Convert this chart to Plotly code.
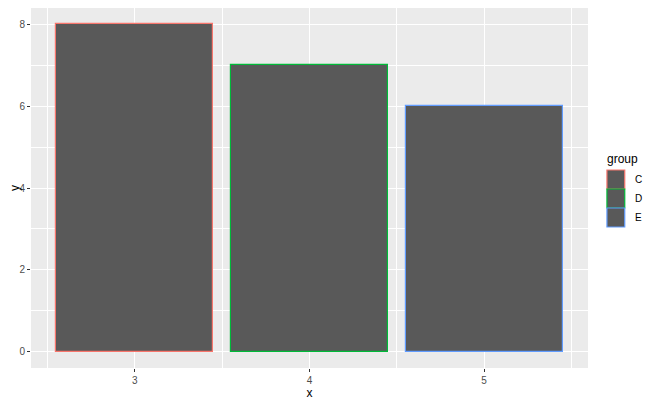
import plotly.graph_objects as go

# data
groups = ['C', 'D', 'E']
x_vals = [3, 4, 5]
y_vals = [8, 7, 6]
outline_colors = ['#F8766D', '#00BA38', '#619CFF']

FILL = '#595959'
PANEL = '#EBEBEB'

fig = go.Figure()
for g, xv, yv, col in zip(groups, x_vals, y_vals, outline_colors):
    fig.add_trace(go.Bar(
        x=[xv], y=[yv], name=g, width=0.9,
        marker=dict(color=FILL, line=dict(color=col, width=1.2)),
        showlegend=False
    ))

axis_common = dict(
    showgrid=True, gridcolor='white', gridwidth=1.1,
    zeroline=False, showline=False, automargin=False,
    ticks='outside', ticklen=3, tickcolor='#333333', tickwidth=1,
    tickfont=dict(family='Liberation Sans', size=10, color='#4D4D4D'),
    title_font=dict(family='Liberation Sans', size=12, color='black'),
    minor=dict(showgrid=True, gridcolor='white', gridwidth=0.5),
)

fig.update_xaxes(range=[2.405, 5.595], tickvals=x_vals, title_text='x',
                 title_standoff=0, minor_dtick=0.5, minor_tick0=2.5,
                 **axis_common)
fig.update_yaxes(range=[-0.4, 8.4], dtick=2, title_text='y',
                 title_standoff=0, minor_dtick=1, minor_tick0=1,
                 **axis_common)

# hand-drawn ggplot style legend
x0, x1 = 1.034, 1.066
key_h = 19 / 360
top = (368 - 170) / 360
fig.add_annotation(x=1.031, y=(368 - 159) / 360, xref='paper', yref='paper',
                   text='group', showarrow=False, xanchor='left',
                   font=dict(family='Liberation Sans', size=12, color='black'))
for i, (g, col) in enumerate(zip(groups, outline_colors)):
    y_top = top - i * key_h
    fig.add_shape(type='rect', xref='paper', yref='paper',
                  x0=x0, x1=x1, y0=y_top - key_h, y1=y_top,
                  fillcolor=FILL, line=dict(color=col, width=1.2))
    fig.add_annotation(x=1.08, y=y_top - key_h / 2, xref='paper', yref='paper',
                       text=g, showarrow=False, xanchor='left',
                       font=dict(family='Liberation Sans', size=10, color='black'))

# faint window edge from the screenshot
fig.add_shape(type='line', xref='paper', yref='paper',
              x0=(653 - 31) / 557, x1=(653 - 31) / 557, y0=-0.2, y1=1.1,
              line=dict(color='#D8D8D8', width=1))

# page body has an 8px margin, so the figure is sized to fit inside it
fig.update_layout(
    width=652, height=393,
    margin=dict(l=23, r=72, t=0, b=33),
    plot_bgcolor=PANEL, paper_bgcolor='white',
    bargap=0, showlegend=False,
    font=dict(family='Liberation Sans'),
)

fig.write_html("out.html")
